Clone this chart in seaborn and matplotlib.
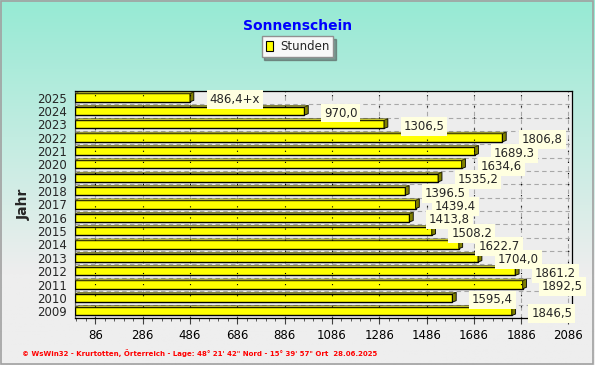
import numpy as np
import pandas as pd
import matplotlib
matplotlib.use("Agg")
import matplotlib.pyplot as plt
from matplotlib.patches import Polygon, Patch
import seaborn as sns

years = ["2025", "2024", "2023", "2022", "2021", "2020", "2019", "2018", "2017",
         "2016", "2015", "2014", "2013", "2012", "2011", "2010", "2009"]
hours = [486.4, 970.0, 1306.5, 1806.8, 1689.3, 1634.6, 1535.2, 1396.5, 1439.4,
         1413.8, 1508.2, 1622.7, 1704.0, 1861.2, 1892.5, 1595.4, 1846.5]
labels = ["486,4+x", "970,0", "1306,5", "1806,8", "1689,3", "1634,6", "1535,2",
          "1396,5", "1439,4", "1413,8", "1508,2", "1622,7", "1704,0", "1861,2",
          "1892,5", "1595,4", "1846,5"]
xticks = [86, 286, 486, 686, 886, 1086, 1286, 1486, 1686, 1886, 2086]

df = pd.DataFrame({"Jahr": years, "Stunden": hours})

sns.set_theme(style="white")
plt.rcParams["font.family"] = ["DejaVu Sans"]

fig = plt.figure(figsize=(5.95, 3.65), dpi=100)

# background gradient
bg = fig.add_axes([0, 0, 1, 1], zorder=-10)
top = np.array([0x96, 0xEA, 0xD4]) / 255
bot = np.array([0xEE, 0xEE, 0xEE]) / 255
t = np.linspace(0, 1, 256)[:, None]
t = np.clip(t / 0.75, 0, 1)
grad = top[None, None, :] * (1 - t[:, :, None]) + bot[None, None, :] * t[:, :, None]
grad = np.repeat(grad, 2, axis=1)
bg.imshow(grad, aspect="auto", extent=[0, 1, 0, 1], origin="upper")
bg.set_xlim(0, 1); bg.set_ylim(0, 1)
bg.axis("off")
bg.add_patch(plt.Rectangle((0.002, 0.004), 0.994, 0.992, fill=False,
                           edgecolor="#A0A0A0", lw=1.2))

ax = fig.add_axes([0.126, 0.129, 0.835, 0.622])
ax.set_facecolor("#EDEDED")

sns.barplot(data=df, x="Stunden", y="Jahr", orient="h", color="#FFFF00",
            edgecolor="black", linewidth=1.0, width=0.62, saturation=1, ax=ax,
            zorder=3)

# 3D side / top faces (inverted y axis: smaller y is higher)
dx, dy = 16, 0.1
for p in list(ax.patches):
    x0 = p.get_x(); w = p.get_width(); y0 = p.get_y(); h = p.get_height()
    ytop, ybot = y0, y0 + h
    side = Polygon([(x0 + w, ybot), (x0 + w, ytop), (x0 + w + dx, ytop - dy),
                    (x0 + w + dx, ybot - dy)], closed=True, facecolor="#808000",
                   edgecolor="black", lw=0.6, zorder=3)
    topf = Polygon([(x0, ytop), (x0 + w, ytop), (x0 + w + dx, ytop - dy),
                    (x0 + dx, ytop - dy)], closed=True, facecolor="#E8E840",
                   edgecolor="#303000", lw=0.4, zorder=3)
    ax.add_patch(side)
    ax.add_patch(topf)

ax.set_xlim(0, 2100)
ax.set_ylim(16.5, -0.5)
ax.set_xticks(xticks)
ax.set_xticks(np.arange(6, 2100, 40), minor=True)
ax.set_xticklabels([str(v) for v in xticks], fontsize=8.5, color="black")
ax.tick_params(axis="y", labelsize=8.5, length=4, width=0.8, color="#404040", pad=2)
ax.tick_params(axis="x", which="major", length=4, width=0.8, color="#404040",
               bottom=True, pad=4)
ax.tick_params(axis="x", which="minor", length=2, width=0.6, color="#404040",
               bottom=True)

# grid lines
for v in xticks:
    ax.axvline(v, color="#A8A8A8", ls=(0, (4, 3)), lw=0.8, zorder=1)
    ax.axvline(v, color="black", ls=(0, (1, 9)), lw=0.8, zorder=4)
for k in range(17):
    ax.axhline(k + 0.5, color="#A8A8A8", ls=(0, (4, 3)), lw=0.8, zorder=1)

for s in ["top", "right", "bottom", "left"]:
    ax.spines[s].set_visible(True)
    ax.spines[s].set_color("black")
    ax.spines[s].set_linewidth(0.9)
ax.spines["left"].set_color("#606060")

ax.set_xlabel("")
ax.set_ylabel("Jahr", fontsize=10, fontweight="bold", labelpad=4)

for i, (v, lab) in enumerate(zip(hours, labels)):
    ax.annotate(lab, xy=(v, i), xytext=(14, -1.5), textcoords="offset points",
                ha="left", va="center", fontsize=8.5, zorder=6,
                bbox=dict(boxstyle="square,pad=0.25", facecolor="#FFFFE0",
                          edgecolor="none"))

fig.text(0.5, 0.929, "Sonnenschein", ha="center", va="center", color="#0000FF",
         fontsize=10, fontweight="bold")

leg = fig.legend(handles=[Patch(facecolor="#FFFF00", edgecolor="black", lw=0.8)],
                 labels=["Stunden"], loc="center", bbox_to_anchor=(0.5, 0.873),
                 fontsize=8.5, frameon=True, fancybox=False, shadow=True,
                 handlelength=0.6, handleheight=0.9, handletextpad=0.6,
                 borderpad=0.35, framealpha=1)
leg.get_frame().set_edgecolor("#909090")
leg.get_frame().set_facecolor("#F8F8F8")

fig.text(0.037, 0.033,
         "\u00a9 WsWin32 - Krurtotten, \u00d6rterreich - Lage: 48\u00b0 21' 42\" Nord - 15\u00b0 39' 57\" Ort  28.06.2025",
         color="#FF0000", fontsize=5, fontweight="bold", ha="left", va="center")

fig.savefig("out.png", dpi=100)
